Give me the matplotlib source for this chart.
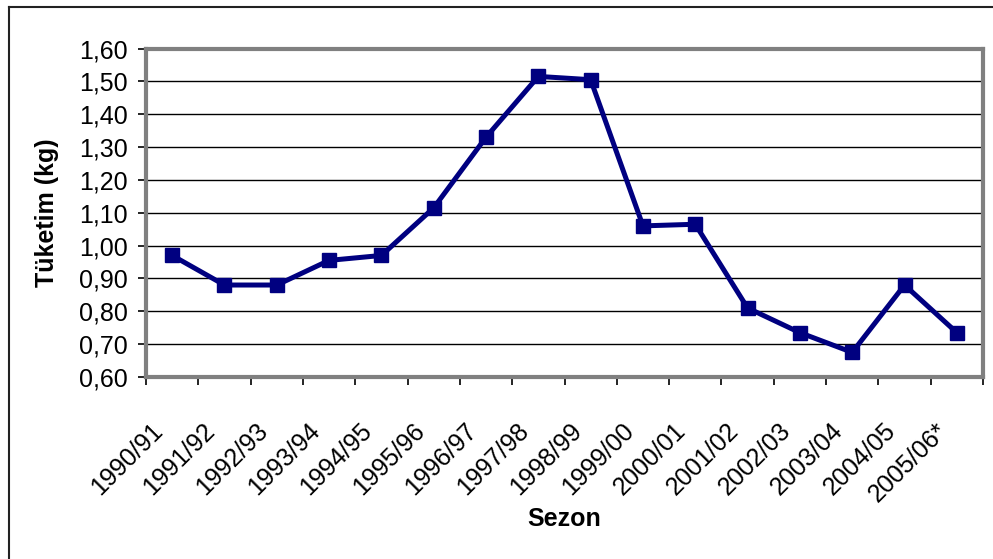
import matplotlib
matplotlib.use("Agg")
import matplotlib.pyplot as plt
from matplotlib.ticker import FixedLocator
from matplotlib.lines import Line2D
from matplotlib.transforms import ScaledTranslation, blended_transform_factory

seasons = ["1990/91", "1991/92", "1992/93", "1993/94", "1994/95", "1995/96",
           "1996/97", "1997/98", "1998/99", "1999/00", "2000/01", "2001/02",
           "2002/03", "2003/04", "2004/05", "2005/06*"]
consumption = [0.97, 0.88, 0.88, 0.955, 0.97, 1.115, 1.33, 1.515, 1.505,
               1.06, 1.065, 0.81, 0.735, 0.675, 0.88, 0.735]
y_ticks = [0.60, 0.70, 0.80, 0.90, 1.00, 1.10, 1.20, 1.30, 1.40, 1.50, 1.60]

plt.rcParams['font.family'] = ['Liberation Sans', 'DejaVu Sans']

W, H = 993, 559
fig = plt.figure(figsize=(W / 100, H / 100), dpi=100)
L, R, T, B = 146, 983, 48.5, 377
ax = fig.add_axes([L / W, 1 - B / H, (R - L) / W, (B - T) / H])

x = list(range(len(seasons)))
ax.plot(x, consumption, color='#000080', lw=3.6, marker='s', markersize=10.5,
        markerfacecolor='#000080', markeredgecolor='#000080', zorder=5,
        clip_on=False)

ax.set_xlim(-0.5, len(seasons) - 0.5)
ax.set_ylim(y_ticks[0], y_ticks[-1])

ax.set_yticks(y_ticks)
ax.set_yticklabels([f"{v:.2f}".replace('.', ',') for v in y_ticks], fontsize=18)
ax.yaxis.grid(True, color='black', lw=1.0)
ax.set_axisbelow(True)

# category labels (rotated, Excel style)
ax.set_xticks(x)
ax.set_xticklabels([''] * len(seasons))
base = blended_transform_factory(ax.transData, ax.transAxes)
offset = ScaledTranslation(-13 / 100, -50 / 100, fig.dpi_scale_trans)
for xi, lab in zip(x, seasons):
    ax.text(xi, 0, lab, transform=base + offset, rotation=45, ha='right',
            va='center', rotation_mode='anchor', fontsize=18, clip_on=False)

ax.xaxis.set_minor_locator(FixedLocator([i - 0.5 for i in range(len(seasons) + 1)]))
ax.tick_params(axis='x', which='major', length=0)
ax.tick_params(axis='x', which='minor', length=6, width=1.2, color='black', direction='out')
ax.tick_params(axis='y', which='major', length=6, width=1.2, color='black', direction='out', pad=7)

for s in ax.spines.values():
    s.set_color('#808080')
    s.set_linewidth(3)

ax.set_xlabel("Sezon", fontsize=18, fontweight='bold')
ax.set_ylabel("Tüketim (kg)", fontsize=18, fontweight='bold')
ax.xaxis.set_label_coords(0.5, -(507 - B) / (B - T), transform=ax.transAxes)
ax.yaxis.set_label_coords(-(L - 59) / (R - L), 0.5, transform=ax.transAxes)

# outer chart border (top and left visible)
fig.add_artist(Line2D([9 / W, 9 / W], [0, 1 - 6.5 / H], color='#222222', lw=1.5,
                      transform=fig.transFigure))
fig.add_artist(Line2D([9 / W, 1], [1 - 6.5 / H, 1 - 6.5 / H], color='#222222', lw=1.5,
                      transform=fig.transFigure))

fig.savefig("out.png", dpi=100)
